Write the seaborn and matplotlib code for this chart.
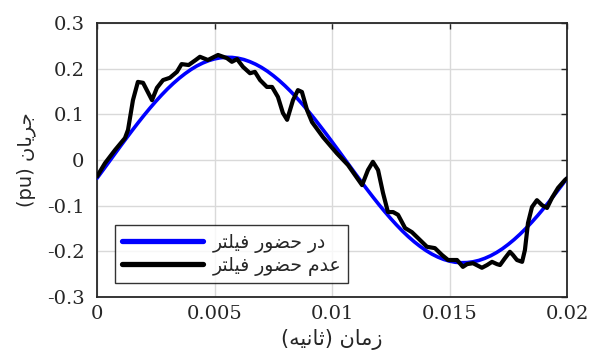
import matplotlib
matplotlib.use("Agg")
import matplotlib.pyplot as plt
import seaborn as sns
import pandas as pd

# ---- data ----
t_filter = [i * 0.00025 for i in range(81)]
i_filter = [-0.040, -0.0225, -0.0049, 0.0128, 0.0304, 0.0478, 0.0649, 0.0816, 0.0978, 0.1134,
            0.1283, 0.1424, 0.1557, 0.1679, 0.1791, 0.1892, 0.1982, 0.2060, 0.2124, 0.2176,
            0.2214, 0.2239, 0.2249, 0.2246, 0.2229, 0.2199, 0.2154, 0.2097, 0.2027, 0.1944,
            0.1848, 0.1742, 0.1625, 0.1498, 0.1362, 0.1217, 0.1064, 0.0906, 0.0741, 0.0573,
            0.0400, 0.0225, 0.0049, -0.0128, -0.0304, -0.0478, -0.0649, -0.0816, -0.0978, -0.1134,
            -0.1283, -0.1424, -0.1557, -0.1679, -0.1791, -0.1892, -0.1982, -0.2060, -0.2124, -0.2176,
            -0.2214, -0.2239, -0.2249, -0.2246, -0.2229, -0.2199, -0.2154, -0.2097, -0.2027, -0.1944,
            -0.1848, -0.1742, -0.1625, -0.1498, -0.1362, -0.1217, -0.1064, -0.0906, -0.0741, -0.0573,
            -0.0400]

t_nofilter = [0.0, 0.00034, 0.00077, 0.00119, 0.00132, 0.00153, 0.00174, 0.00196, 0.00234, 0.00255,
              0.00281, 0.0031, 0.0034, 0.0036, 0.0039, 0.0042, 0.00438, 0.00472, 0.00515, 0.00553,
              0.00574, 0.00596, 0.00621, 0.00651, 0.00672, 0.00694, 0.00723, 0.00745, 0.0077, 0.00791,
              0.00809, 0.00834, 0.00855, 0.00872, 0.00894, 0.00915, 0.00962, 0.0102, 0.01068, 0.01098,
              0.01128, 0.01153, 0.01174, 0.01196, 0.01217, 0.01238, 0.0126, 0.01281, 0.01311, 0.0134,
              0.01374, 0.01404, 0.01438, 0.01468, 0.01494, 0.01532, 0.01557, 0.01575, 0.016, 0.01638,
              0.0166, 0.01681, 0.01702, 0.01715, 0.01736, 0.01757, 0.0177, 0.01787, 0.01809, 0.01821,
              0.01834, 0.01851, 0.01872, 0.01894, 0.01915, 0.01936, 0.01962, 0.01991, 0.02]
i_nofilter = [-0.036, -0.007, 0.022, 0.048, 0.066, 0.131, 0.171, 0.169, 0.131, 0.158,
              0.175, 0.180, 0.193, 0.210, 0.208, 0.219, 0.226, 0.219, 0.230, 0.223,
              0.215, 0.221, 0.204, 0.190, 0.193, 0.175, 0.160, 0.160, 0.138, 0.103,
              0.088, 0.131, 0.153, 0.149, 0.109, 0.083, 0.050, 0.015, -0.011, -0.033,
              -0.055, -0.022, -0.004, -0.022, -0.072, -0.114, -0.114, -0.120, -0.149, -0.158,
              -0.175, -0.190, -0.193, -0.208, -0.219, -0.219, -0.234, -0.228, -0.226, -0.236,
              -0.230, -0.223, -0.228, -0.230, -0.215, -0.201, -0.208, -0.219, -0.223, -0.197,
              -0.138, -0.103, -0.088, -0.099, -0.105, -0.083, -0.061, -0.044, -0.040]

x_ticks = [0, 0.005, 0.01, 0.015, 0.02]
x_ticklabels = ["0", "0.005", "0.01", "0.015", "0.02"]
y_ticks = [-0.3, -0.2, -0.1, 0, 0.1, 0.2, 0.3]
y_ticklabels = ["-0.3", "-0.2", "-0.1", "0", "0.1", "0.2", "0.3"]

# Persian labels (pre-shaped presentation forms, visual order)
label_filter = "\uFEAE\uFE98\uFEE0\uFEF4\uFED3 \uFEAD\uFEEE\uFEC0\uFEA3 \uFEAD\uFEA9"      # در حضور فیلتر
label_nofilter = "\uFEAE\uFE98\uFEE0\uFEF4\uFED3 \uFEAD\uFEEE\uFEC0\uFEA3 \uFEE1\uFEAA\uFECB"  # عدم حضور فیلتر
xlabel = "(\uFEEA\uFEF4\uFEE7\uFE8E\uFE9B) \uFEE5\uFE8E\uFEE3\uFEAF"   # زمان (ثانیه)
ylabel = "(pu) \uFEE5\uFE8E\uFEF3\uFEAE\uFE9F"                          # جریان (pu)

df_f = pd.DataFrame({"t": t_filter, "i": i_filter})
df_n = pd.DataFrame({"t": t_nofilter, "i": i_nofilter})

sns.set_style("white")
plt.rcParams["font.family"] = ["DejaVu Serif"]
plt.rcParams["axes.unicode_minus"] = False

fig = plt.figure(figsize=(5.92, 3.52), dpi=100)
ax = fig.add_axes([97 / 592, 1 - 297 / 352, 470 / 592, 274 / 352])

sns.lineplot(data=df_f, x="t", y="i", ax=ax, color="#0000ff", linewidth=2.6,
             estimator=None, sort=False, label=label_filter, zorder=3)
sns.lineplot(data=df_n, x="t", y="i", ax=ax, color="black", linewidth=3.0,
             estimator=None, sort=False, label=label_nofilter, zorder=4)

ax.set_xlim(0, 0.02)
ax.set_ylim(-0.3, 0.3)
ax.set_xticks(x_ticks)
ax.set_xticklabels(x_ticklabels)
ax.set_yticks(y_ticks)
ax.set_yticklabels(y_ticklabels)
ax.grid(True, color="#d9d9d9", linewidth=1.0)
ax.set_axisbelow(True)
for s in ax.spines.values():
    s.set_visible(True)
    s.set_color("#262626")
    s.set_linewidth(1.3)
ax.tick_params(direction="in", length=4, width=1, top=True, right=True,
               labelsize=14, colors="#262626", pad=6)
ax.tick_params(axis="y", pad=9)

ax.set_xlabel(xlabel, family=["DejaVu Sans"], fontsize=15, labelpad=4)
ax.set_ylabel(ylabel, family=["DejaVu Sans"], fontsize=14, labelpad=8)

leg = ax.legend(loc="lower left", bbox_to_anchor=(0.038, 0.051), borderaxespad=0,
                frameon=True, fancybox=False, handlelength=4.3, handletextpad=0.5,
                borderpad=0.4, labelspacing=0.15,
                prop={"family": ["DejaVu Sans"], "size": 13.5})
leg.get_frame().set_edgecolor("black")
leg.get_frame().set_linewidth(1.0)
for line in leg.get_lines():
    line.set_linewidth(3.8)

fig.savefig("out.png", dpi=100)
